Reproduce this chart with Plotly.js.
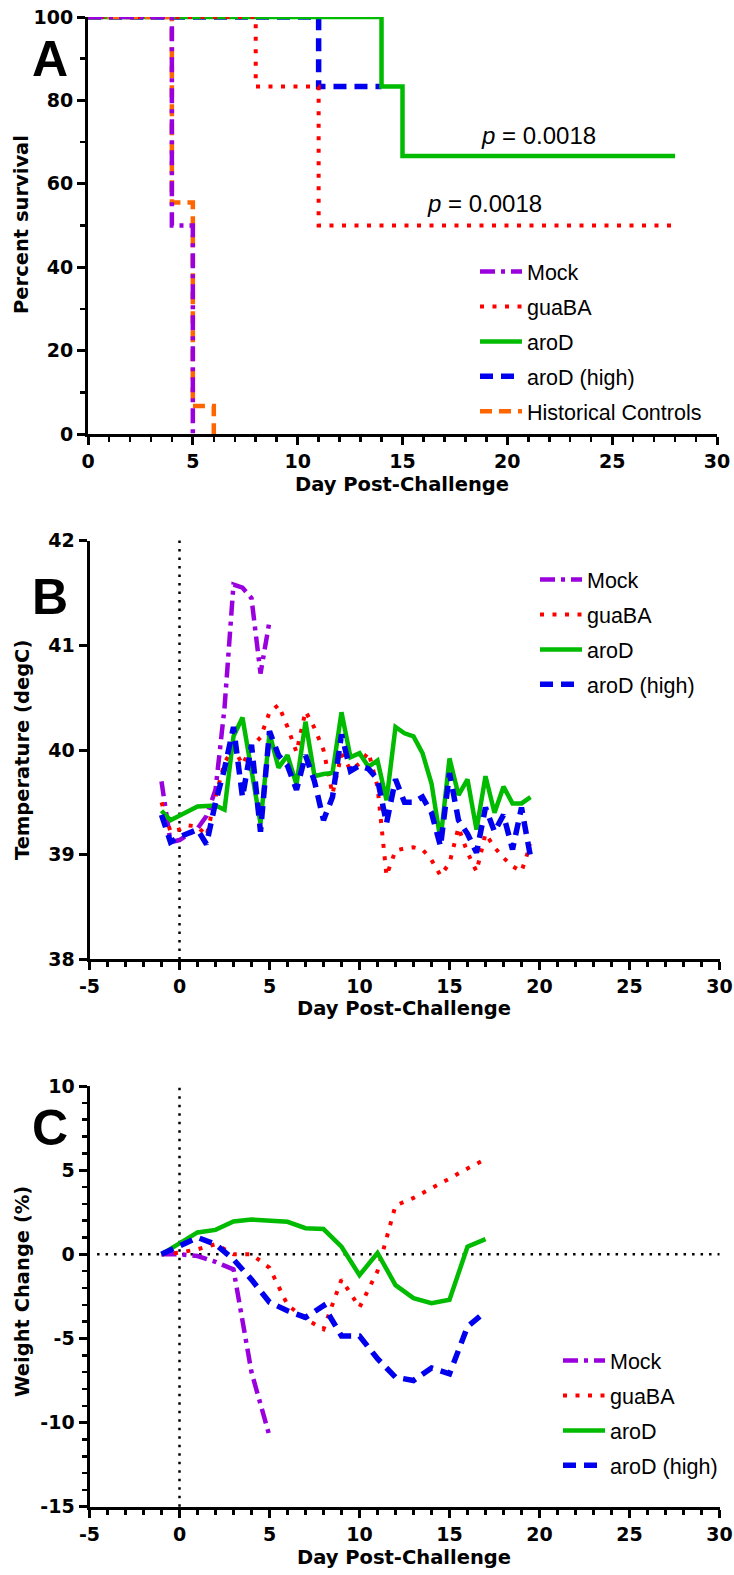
<!DOCTYPE html>
<html>
<head>
<meta charset="utf-8">
<script src="https://cdn.plot.ly/plotly-3.0.1.min.js"></script>
<style>html,body{margin:0;padding:0;background:#fff}#chart{width:734px;height:1575px}</style>
</head>
<body>
<div id="chart"></div>
<script>
// ---------- Panel A: survival ----------
const mockA_x = [0, 4, 5];
const mockA_y = [100, 50, 0];
const guaA_x = [0, 8, 11, 28];
const guaA_y = [100, 83.33, 50, 50];
const aroA_x = [0, 14, 15, 28];
const aroA_y = [100, 83.33, 66.67, 66.67];
const aroHighA_x = [0, 11, 14];
const aroHighA_y = [100, 83.33, 83.33];
const histA_x = [0, 4, 5, 6];
const histA_y = [100, 55.5, 6.7, 0];

// ---------- Panel B: temperature ----------
const mockB_x = [-1,-0.5,0,0.5,1,1.5,2,2.5,3,3.5,4,4.5,5];
const mockB_y = [39.70,39.12,39.14,39.19,39.25,39.37,39.62,40.40,41.58,41.55,41.45,40.73,41.23];
const guaB_x = [-1,-0.5,0,0.5,1,1.5,2,2.5,3,3.5,4,4.5,5,5.5,6,6.5,7,7.5,8,8.5,9,9.5,10,10.5,11,11.5,12,12.5,13,13.5,14,14.5,15,15.5,16,16.5,17,17.5,18,18.5,19,19.5];
const guaB_y = [39.50,39.22,39.24,39.28,39.27,39.18,39.55,39.88,40.02,39.86,40.03,40.12,40.36,40.43,40.22,39.98,40.37,40.21,40.00,39.58,39.96,39.81,39.87,39.98,39.65,38.80,39.04,39.06,39.07,39.05,38.95,38.80,38.92,39.26,39.02,38.84,39.20,39.07,38.97,38.89,38.84,39.10];
const aroB_x = [-1,-0.5,1,2,2.5,3,3.5,4,4.5,5,5.5,6,6.5,7,7.5,8,8.5,9,9.5,10,10.5,11,11.5,12,12.5,13,13.5,14,14.5,15,15.5,16,16.5,17,17.5,18,18.5,19,19.5];
const aroB_y = [39.42,39.33,39.46,39.47,39.43,40.13,40.31,39.82,39.30,40.16,39.83,39.95,39.67,40.27,39.75,39.77,39.78,40.36,39.93,39.97,39.84,39.90,39.52,40.22,40.16,40.13,39.97,39.68,39.14,39.92,39.57,39.72,39.24,39.75,39.40,39.65,39.49,39.49,39.55];
const aroHighB_x = [-1,-0.5,0,0.5,1,1.5,2,2.5,3,3.5,4,4.5,5,5.5,6,6.5,7,7.5,8,8.5,9,9.5,10,10.5,11,11.5,12,12.5,13,13.5,14,14.5,15,15.5,16,16.5,17,17.5,18,18.5,19,19.5];
const aroHighB_y = [39.38,39.12,39.17,39.20,39.24,39.10,39.50,39.82,40.22,39.55,40.05,39.22,40.18,39.95,39.85,39.62,39.95,39.70,39.33,39.55,40.15,39.80,39.85,39.82,39.72,39.30,39.72,39.50,39.50,39.55,39.40,39.08,39.78,39.33,39.20,39.02,39.45,39.22,39.38,39.05,39.45,38.98];

// ---------- Panel C: weight change ----------
const mockC_x = [-1,0,1,2,3,4,5];
const mockC_y = [0,0,-0.1,-0.45,-0.9,-7.0,-10.8];
const guaC_x = [-1,0,1,2,3,4,5,6,7,8,9,10,11,12,13,14,15,16,17];
const guaC_y = [0,0.1,0.3,0.6,0,0,-0.8,-3.0,-3.85,-4.45,-1.5,-3.15,-1.0,2.9,3.35,3.9,4.5,5.1,5.65];
const aroC_x = [-1,0,1,2,3,4,5,6,7,8,9,10,11,12,13,14,15,16,17];
const aroC_y = [0,0.65,1.3,1.45,1.95,2.07,2.0,1.93,1.55,1.5,0.45,-1.24,0.08,-1.83,-2.6,-2.9,-2.7,0.45,0.9];
const aroHighC_x = [-1,0,1,2,3,4,5,6,7,8,9,10,11,12,13,14,15,16,17];
const aroHighC_y = [0,0.5,1.0,0.6,-0.3,-1.5,-2.85,-3.35,-3.75,-3.05,-4.85,-4.85,-6.2,-7.3,-7.5,-6.75,-7.1,-4.3,-3.4];

// ---------- labels / ticks ----------
const seriesNames = ['Mock', 'guaBA', 'aroD', 'aroD (high)', 'Historical Controls'];
const panelLetters = ['A', 'B', 'C'];
const xTitle = 'Day Post-Challenge';
const yTitles = ['Percent survival', 'Temperature (degC)', 'Weight Change (%)'];
const pText = '<i>p</i> = 0.0018';
const xTicksA = [0,5,10,15,20,25,30];
const xTicksBC = [-5,0,5,10,15,20,25,30];
const yTicksA = [0,20,40,60,80,100];
const yTicksB = [38,39,40,41,42];
const yTicksC = [-15,-10,-5,0,5,10];
const lbl = v => '<b>' + String(v) + '</b>';

// ---------- styles ----------
const FONT = 'Liberation Sans, Arial, sans-serif';
const AXFONT = 'DejaVu Sans, Liberation Sans, sans-serif';
const styles = {
  mock: {color:'#9a00dd', width:4.5, dash:'15px,6px,4px,6px'},
  gua:  {color:'#ff0000', width:4, dash:'4px,8.5px'},
  aro:  {color:'#00bb00', width:4.5, dash:'solid'},
  high: {color:'#0000ee', width:5.5, dash:'13px,8px'},
  hist: {color:'#ff6600', width:4.5, dash:'12px,7px'}
};

function tr(x, y, name, st, xa, ya, leg, rank, shape) {
  return {x:x, y:y, name:name, type:'scatter', mode:'lines', xaxis:xa, yaxis:ya,
    legend:leg, legendgroup:leg + rank, legendrank:rank,
    line:Object.assign({shape: shape || 'linear'}, st), hoverinfo:'skip'};
}

// drawing order: blue at the bottom, mock on top; legend order via legendrank
const data = [
  tr(aroHighA_x, aroHighA_y, seriesNames[3], styles.high, 'x', 'y', 'legend', 4, 'hv'),
  tr(aroA_x, aroA_y, seriesNames[2], styles.aro, 'x', 'y', 'legend', 3, 'hv'),
  tr(guaA_x, guaA_y, seriesNames[1], styles.gua, 'x', 'y', 'legend', 2, 'hv'),
  tr(histA_x, histA_y, seriesNames[4], styles.hist, 'x', 'y', 'legend', 5, 'hv'),
  tr(mockA_x, mockA_y, seriesNames[0], styles.mock, 'x', 'y', 'legend', 1, 'hv'),

  tr(mockB_x, mockB_y, seriesNames[0], styles.mock, 'x2', 'y2', 'legend2', 1),
  tr(guaB_x, guaB_y, seriesNames[1], styles.gua, 'x2', 'y2', 'legend2', 2),
  tr(aroB_x, aroB_y, seriesNames[2], styles.aro, 'x2', 'y2', 'legend2', 3),
  tr(aroHighB_x, aroHighB_y, seriesNames[3], styles.high, 'x2', 'y2', 'legend2', 4),

  tr(mockC_x, mockC_y, seriesNames[0], styles.mock, 'x3', 'y3', 'legend3', 1),
  tr(guaC_x, guaC_y, seriesNames[1], styles.gua, 'x3', 'y3', 'legend3', 2),
  tr(aroC_x, aroC_y, seriesNames[2], styles.aro, 'x3', 'y3', 'legend3', 3),
  tr(aroHighC_x, aroHighC_y, seriesNames[3], styles.high, 'x3', 'y3', 'legend3', 4)
];

const W = 734, H = 1575;
const px = v => v / W;
const py = v => 1 - v / H;

function axis(domain, range, tickvals, anchor, minorDtick) {
  const a = {
    domain: domain, range: range, anchor: anchor, tickmode:'array',
    tickvals: tickvals, ticktext: tickvals.map(lbl),
    showline:true, linecolor:'#000', linewidth:3, mirror:false,
    ticks:'outside', ticklen:8, tickwidth:3, tickcolor:'#000',
    tickfont:{family:AXFONT, size:19, color:'#000', weight:'bold'},
    showgrid:false, zeroline:false, fixedrange:true
  };
  if (minorDtick) {
    a.minor = {dtick:minorDtick, ticks:'outside', ticklen:5, tickwidth:2.5, tickcolor:'#000', showgrid:false};
  }
  return a;
}

const xDomA = [px(88), px(717)];
const xDomBC = [px(89.5), px(719.5)];
const yDomA = [py(434), py(17)];
const yDomB = [py(959.4), py(540.6)];
const yDomC = [py(1506.8), py(1086)];

function legendAt(left, top) {
  return {x:px(left), xanchor:'left', y:py(top), yanchor:'top',
    font:{family:FONT, size:21.5, color:'#000'}, bgcolor:'rgba(0,0,0,0)',
    itemwidth:42, traceorder:'grouped', tracegroupgap:4,
    itemclick:false, itemdoubleclick:false};
}

function ann(text, x, y, size, family, bold, angle) {
  return {text: bold ? '<b>' + text + '</b>' : text, xref:'paper', yref:'paper',
    x:px(x), y:py(y), xanchor:'center', yanchor:'middle',
    showarrow:false, textangle:angle || 0,
    font:{family:family, size:size, color:'#000'}};
}

const dotted = {color:'#000', width:2.5, dash:'2.5px,6px'};

const layout = {
  width:W, height:H, margin:{l:0, r:0, t:0, b:0},
  paper_bgcolor:'#fff', plot_bgcolor:'rgba(0,0,0,0)',
  font:{family:FONT, color:'#000'},
  xaxis: axis(xDomA, [0,30], xTicksA, 'y', 1),
  yaxis: axis(yDomA, [0,100], yTicksA, 'x', 10),
  xaxis2: axis(xDomBC, [-5,30], xTicksBC, 'y2', 1),
  yaxis2: axis(yDomB, [38,42], yTicksB, 'x2', null),
  xaxis3: axis(xDomBC, [-5,30], xTicksBC, 'y3', 1),
  yaxis3: axis(yDomC, [-15,10], yTicksC, 'x3', 1),
  legend: legendAt(475, 251),
  legend2: legendAt(535, 559),
  legend3: legendAt(558, 1340),
  shapes: [
    {type:'line', layer:'below', xref:'x2', yref:'y2 domain', x0:0, x1:0, y0:0, y1:1, line:dotted},
    {type:'line', layer:'below', xref:'x3', yref:'y3 domain', x0:0, x1:0, y0:0, y1:1, line:dotted},
    {type:'line', layer:'below', xref:'x3 domain', yref:'y3', x0:0.012, x1:1, y0:0, y1:0, line:dotted}
  ],
  annotations: [
    ann(panelLetters[0], 50, 59, 50, FONT, true),
    ann(panelLetters[1], 50, 597, 50, FONT, true),
    ann(panelLetters[2], 50, 1128, 50, FONT, true),
    ann(xTitle, 402, 484, 19.5, AXFONT, true),
    ann(xTitle, 404, 1008, 19.5, AXFONT, true),
    ann(xTitle, 404, 1557, 19.5, AXFONT, true),
    ann(yTitles[0], 22, 225, 19.5, AXFONT, true, -90),
    ann(yTitles[1], 22, 750, 19.5, AXFONT, true, -90),
    ann(yTitles[2], 22, 1292, 19.5, AXFONT, true, -90),
    {text:pText, xref:'x', yref:'y', x:21.5, y:71.5, xanchor:'center', yanchor:'middle', showarrow:false,
      font:{family:FONT, size:24, color:'#000'}},
    {text:pText, xref:'x', yref:'y', x:18.9, y:55.2, xanchor:'center', yanchor:'middle', showarrow:false,
      font:{family:FONT, size:24, color:'#000'}}
  ]
};

Plotly.newPlot('chart', data, layout, {staticPlot:true, displayModeBar:false});
</script>
</body>
</html>
